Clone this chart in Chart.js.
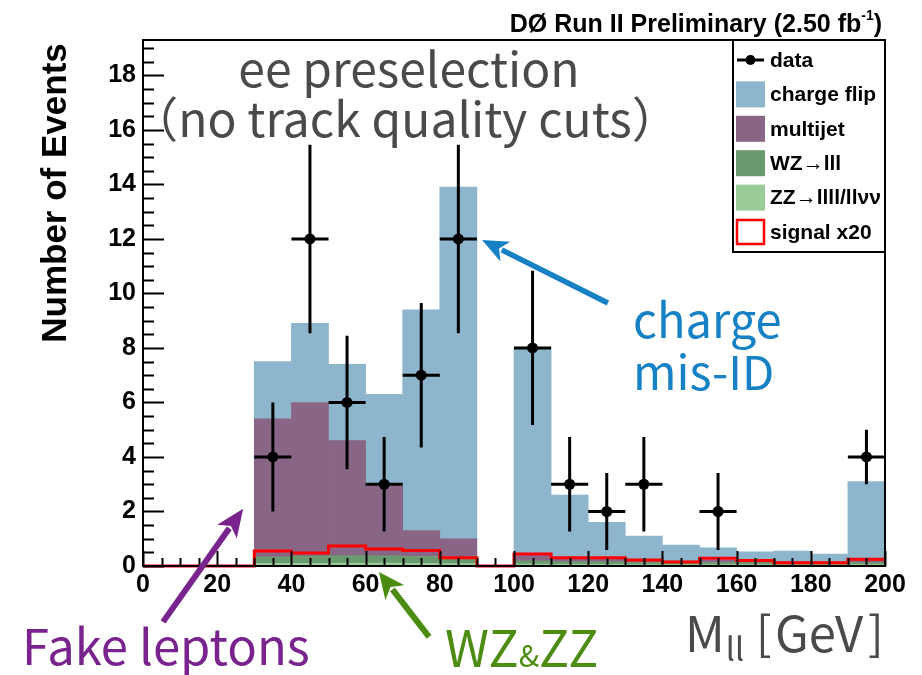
<!DOCTYPE html>
<html>
<head>
<meta charset="utf-8">
<script src="https://cdn.jsdelivr.net/npm/chart.js@4.4.1/dist/chart.umd.min.js"></script>
<style>
  html, body { margin: 0; padding: 0; background: #fff; }
</style>
</head>
<body>
<canvas id="mll" width="922" height="675"></canvas>
<script>
// M(ll) histogram, 10 GeV bins from 0 to 200 GeV
const binWidth = 10;
const binLow = [0, 10, 20, 30, 40, 50, 60, 70, 80, 90, 100, 110, 120, 130, 140, 150, 160, 170, 180, 190];

// background components (events per bin), stacked bottom to top: ZZ, WZ, multijet, charge flip
const zzBkg      = [0, 0, 0, 0.10, 0.10, 0.11, 0.11, 0.10, 0.09, 0, 0.07, 0.06, 0.06, 0.05, 0.05, 0.05, 0.05, 0.04, 0.04, 0.05];
const wzBkg      = [0, 0, 0, 0.24, 0.26, 0.27, 0.26, 0.25, 0.21, 0, 0.12, 0.10, 0.10, 0.08, 0.08, 0.08, 0.07, 0.06, 0.06, 0.08];
const multijet   = [0, 0, 0, 5.06, 5.64, 4.22, 2.63, 0.95, 0.70, 0, 0.25, 0.12, 0.10, 0.10, 0.05, 0.08, 0.05, 0.05, 0.04, 0.10];
const chargeFlip = [0, 0, 0, 2.10, 2.90, 2.80, 3.30, 8.10, 12.90, 0, 7.56, 2.32, 1.34, 0.87, 0.59, 0.46, 0.35, 0.40, 0.30, 2.87];

// signal, scaled x20
const signalX20  = [0, 0, 0, 0.55, 0.48, 0.73, 0.62, 0.57, 0.30, 0, 0.44, 0.30, 0.30, 0.22, 0.15, 0.28, 0.20, 0.12, 0.12, 0.25];

// observed events
const dataMass   = [35, 45, 55, 65, 75, 85, 105, 115, 125, 135, 155, 195];
const dataEvents = [4, 12, 6, 3, 7, 12, 8, 3, 2, 3, 2, 4];
const dataErr    = [2.0, 3.46, 2.45, 1.73, 2.65, 3.46, 2.83, 1.73, 1.41, 1.73, 1.41, 1.0];

const xTicks = [0, 20, 40, 60, 80, 100, 120, 140, 160, 180, 200];
const yTicks = [0, 2, 4, 6, 8, 10, 12, 14, 16, 18];

const colors = {
  chargeFlip: '#8db5cc',
  multijet: '#8a6686',
  wz: '#6b9a6f',
  zz: '#9acc99',
  signal: '#ff0000'
};

const centers = binLow.map(v => v + binWidth / 2);
const asBars = vals => vals.map((v, i) => ({ x: centers[i], y: v }));
const signalSteps = binLow.map((v, i) => ({ x: v, y: signalX20[i] }))
  .concat([{ x: binLow[binLow.length - 1] + binWidth, y: signalX20[signalX20.length - 1] }]);

const tickFont = { family: '"Liberation Sans", Arial, sans-serif', size: 25, weight: 'bold' };
const noteFont = '"Noto Sans CJK JP", "Noto Sans", sans-serif';

// ROOT-style frame with inward ticks, error bars, legend and labels
const decorations = {
  id: 'decorations',
  afterDatasetsDraw(chart) {
    const ctx = chart.ctx;
    const area = chart.chartArea;
    const xs = chart.scales.x, ys = chart.scales.y;

    // error bars on data points
    ctx.save();
    ctx.strokeStyle = '#000';
    ctx.lineWidth = 3;
    dataMass.forEach((m, i) => {
      const px = xs.getPixelForValue(m);
      const py = ys.getPixelForValue(dataEvents[i]);
      ctx.beginPath();
      ctx.moveTo(xs.getPixelForValue(m - binWidth / 2), py);
      ctx.lineTo(xs.getPixelForValue(m + binWidth / 2), py);
      ctx.moveTo(px, ys.getPixelForValue(dataEvents[i] + dataErr[i]));
      ctx.lineTo(px, ys.getPixelForValue(Math.max(0, dataEvents[i] - dataErr[i])));
      ctx.stroke();
    });
    ctx.restore();

    // ticks
    ctx.save();
    ctx.strokeStyle = '#000';
    ctx.lineWidth = 2;
    ctx.beginPath();
    for (let v = 0; v <= 200; v += 5) {
      const px = Math.round(xs.getPixelForValue(v)) + 0.5;
      const len = v % 20 === 0 ? 15 : 8;
      ctx.moveTo(px, area.bottom);
      ctx.lineTo(px, area.bottom - len);
    }
    for (let v = 0; v <= ys.max; v += 0.5) {
      const py = Math.round(ys.getPixelForValue(v)) + 0.5;
      const len = v % 2 === 0 ? 21 : 11;
      ctx.moveTo(area.left, py);
      ctx.lineTo(area.left + len, py);
    }
    ctx.stroke();
    ctx.strokeRect(area.left, area.top, area.right - area.left, area.bottom - area.top);
    ctx.restore();

    drawLegend(ctx, area);
    drawLabels(ctx, xs, ys);
  }
};

function drawLegend(ctx, area) {
  const items = [
    { label: 'data', kind: 'data' },
    { label: 'charge flip', fill: colors.chargeFlip },
    { label: 'multijet', fill: colors.multijet },
    { label: 'WZ\u2192lll', fill: colors.wz },
    { label: 'ZZ\u2192llll/ll\u03bd\u03bd', fill: colors.zz },
    { label: 'signal x20', kind: 'line' }
  ];
  const box = { left: 733, top: area.top, right: area.right, bottom: 252 };
  ctx.save();
  ctx.fillStyle = '#fff';
  ctx.fillRect(box.left, box.top, box.right - box.left, box.bottom - box.top);
  ctx.strokeStyle = '#000';
  ctx.lineWidth = 2;
  ctx.strokeRect(box.left, box.top, box.right - box.left, box.bottom - box.top);
  ctx.font = 'bold 21px "Liberation Sans", "DejaVu Sans", Arial, sans-serif';
  ctx.textBaseline = 'middle';
  items.forEach((it, i) => {
    const cy = 60 + i * 34.4;
    const sx = 736, sw = 29, sh = 26;
    if (it.kind === 'data') {
      ctx.strokeStyle = '#000';
      ctx.lineWidth = 3;
      ctx.beginPath();
      ctx.moveTo(sx + 1, cy);
      ctx.lineTo(sx + sw - 1, cy);
      ctx.stroke();
      ctx.fillStyle = '#000';
      ctx.beginPath();
      ctx.arc(sx + sw / 2, cy, 5, 0, Math.PI * 2);
      ctx.fill();
    } else if (it.kind === 'line') {
      ctx.strokeStyle = colors.signal;
      ctx.lineWidth = 2.5;
      ctx.strokeRect(sx + 1, cy - sh / 2 + 1, sw - 2, sh - 2);
    } else {
      ctx.fillStyle = it.fill;
      ctx.fillRect(sx, cy - sh / 2, sw, sh);
    }
    ctx.fillStyle = '#000';
    ctx.fillText(it.label, 770, cy + 1);
  });
  ctx.restore();
}

function drawArrow(ctx, xs, ys, from, to, color, width, headLen, headHalf) {
  const x1 = xs.getPixelForValue(from[0]), y1 = ys.getPixelForValue(from[1]);
  const x2 = xs.getPixelForValue(to[0]), y2 = ys.getPixelForValue(to[1]);
  const a = Math.atan2(y2 - y1, x2 - x1);
  const bx = x2 - headLen * Math.cos(a), by = y2 - headLen * Math.sin(a);
  ctx.save();
  ctx.strokeStyle = color;
  ctx.fillStyle = color;
  ctx.lineWidth = width;
  ctx.beginPath();
  ctx.moveTo(x1, y1);
  ctx.lineTo(bx + 4 * Math.cos(a), by + 4 * Math.sin(a));
  ctx.stroke();
  ctx.beginPath();
  ctx.moveTo(x2, y2);
  ctx.lineTo(bx + headHalf * Math.sin(a), by - headHalf * Math.cos(a));
  ctx.lineTo(bx + 7 * Math.cos(a), by + 7 * Math.sin(a));
  ctx.lineTo(bx - headHalf * Math.sin(a), by + headHalf * Math.cos(a));
  ctx.closePath();
  ctx.fill();
  ctx.restore();
}

function drawLabels(ctx, xs, ys) {
  ctx.save();
  // experiment tag
  ctx.fillStyle = '#000';
  ctx.textBaseline = 'alphabetic';
  ctx.font = 'bold 14px "Liberation Sans", Arial, sans-serif';
  ctx.textAlign = 'right';
  const supW = ctx.measureText('-1').width;
  ctx.font = 'bold 25px "Liberation Sans", Arial, sans-serif';
  const closeW = ctx.measureText(')').width;
  ctx.fillText(')', 882, 32);
  ctx.font = 'bold 14px "Liberation Sans", Arial, sans-serif';
  ctx.fillText('-1', 882 - closeW, 20);
  ctx.font = 'bold 25px "Liberation Sans", Arial, sans-serif';
  ctx.fillText('D\u00d8 Run II Preliminary (2.50 fb', 882 - closeW - supW, 32);

  // y axis title
  ctx.save();
  ctx.translate(66, 193);
  ctx.rotate(-Math.PI / 2);
  ctx.textAlign = 'center';
  ctx.font = 'bold 35px "Liberation Sans", Arial, sans-serif';
  ctx.fillText('Number of Events', 0, 0);
  ctx.restore();

  // selection description
  ctx.textAlign = 'center';
  ctx.fillStyle = '#4a4a4a';
  ctx.font = '48px ' + noteFont;
  ctx.fillText('ee preselection', 409, 87);
  ctx.fillText('\uff08no track quality cuts\uff09', 405, 137);

  // x axis title
  ctx.textAlign = 'left';
  ctx.font = '49px ' + noteFont;
  ctx.fillText('M', 685, 652);
  const mW = ctx.measureText('M').width;
  ctx.font = '32px ' + noteFont;
  ctx.fillText('ll', 685 + mW + 1, 661);
  ctx.font = '46px ' + noteFont;
  ctx.fillText('[', 756, 650);
  ctx.font = '49px ' + noteFont;
  ctx.fillText('GeV', 775, 652);
  ctx.font = '46px ' + noteFont;
  ctx.fillText(']', 868, 650);

  // annotations
  ctx.font = '47px ' + noteFont;
  ctx.fillStyle = '#1681c4';
  ctx.fillText('charge', 633, 338);
  ctx.fillText('mis-ID', 633, 390);
  ctx.font = '49px ' + noteFont;
  ctx.fillStyle = '#79238e';
  ctx.fillText('Fake leptons', 22, 665);
  ctx.fillStyle = '#4d8c12';
  ctx.font = '50px ' + noteFont;
  ctx.fillText('WZ', 445, 667);
  let wzW = ctx.measureText('WZ').width;
  ctx.font = '30px ' + noteFont;
  ctx.fillText('&', 445 + wzW, 667);
  wzW += ctx.measureText('&').width;
  ctx.font = '50px ' + noteFont;
  ctx.fillText('ZZ', 445 + wzW, 667);
  ctx.restore();

  drawArrow(ctx, xs, ys, [5.4, -2.05], [27.0, 2.1], '#79238e', 6, 28, 12);
  drawArrow(ctx, xs, ys, [77.1, -2.6], [63.6, -0.22], '#4d8c12', 6, 26, 12);
  drawArrow(ctx, xs, ys, [125.3, 9.65], [91.4, 11.96], '#1681c4', 5.5, 26, 11);
}

new Chart(document.getElementById('mll'), {
  type: 'bar',
  data: {
    datasets: [
      {
        type: 'line', label: 'data', stack: 'obs',
        data: dataMass.map((m, i) => ({ x: m, y: dataEvents[i] })),
        showLine: false, pointRadius: 5.5, pointBackgroundColor: '#000', pointBorderWidth: 0,
        clip: false
      },
      {
        type: 'line', label: 'signal x20', stack: 'sig',
        data: signalSteps, stepped: 'before',
        borderColor: colors.signal, borderWidth: 3, pointRadius: 0, fill: false,
        clip: false
      },
      { label: 'ZZ', data: asBars(zzBkg), backgroundColor: colors.zz },
      { label: 'WZ', data: asBars(wzBkg), backgroundColor: colors.wz },
      { label: 'multijet', data: asBars(multijet), backgroundColor: colors.multijet },
      { label: 'charge flip', data: asBars(chargeFlip), backgroundColor: colors.chargeFlip }
    ]
  },
  options: {
    responsive: false,
    animation: false,
    layout: { padding: { left: 0, right: 37, top: 40, bottom: 0 } },
    datasets: { bar: { barPercentage: 1, categoryPercentage: 1, borderWidth: 0 } },
    plugins: { legend: { display: false }, tooltip: { enabled: false } },
    scales: {
      x: {
        type: 'linear', min: 0, max: 200, offset: false, stacked: true,
        grid: { display: false, drawTicks: false, offset: false },
        border: { display: false },
        afterBuildTicks: s => { s.ticks = xTicks.map(v => ({ value: v })); },
        afterFit: s => { s.height = 109; },
        ticks: { font: tickFont, color: '#000', padding: 4, maxRotation: 0, autoSkip: false }
      },
      y: {
        type: 'linear', min: 0, max: 19.3, stacked: true,
        grid: { display: false, drawTicks: false },
        border: { display: false },
        afterBuildTicks: s => { s.ticks = yTicks.map(v => ({ value: v })); },
        afterFit: s => { s.width = 143; },
        ticks: { font: tickFont, color: '#000', padding: 7 }
      }
    }
  },
  plugins: [decorations]
});
</script>
</body>
</html>
